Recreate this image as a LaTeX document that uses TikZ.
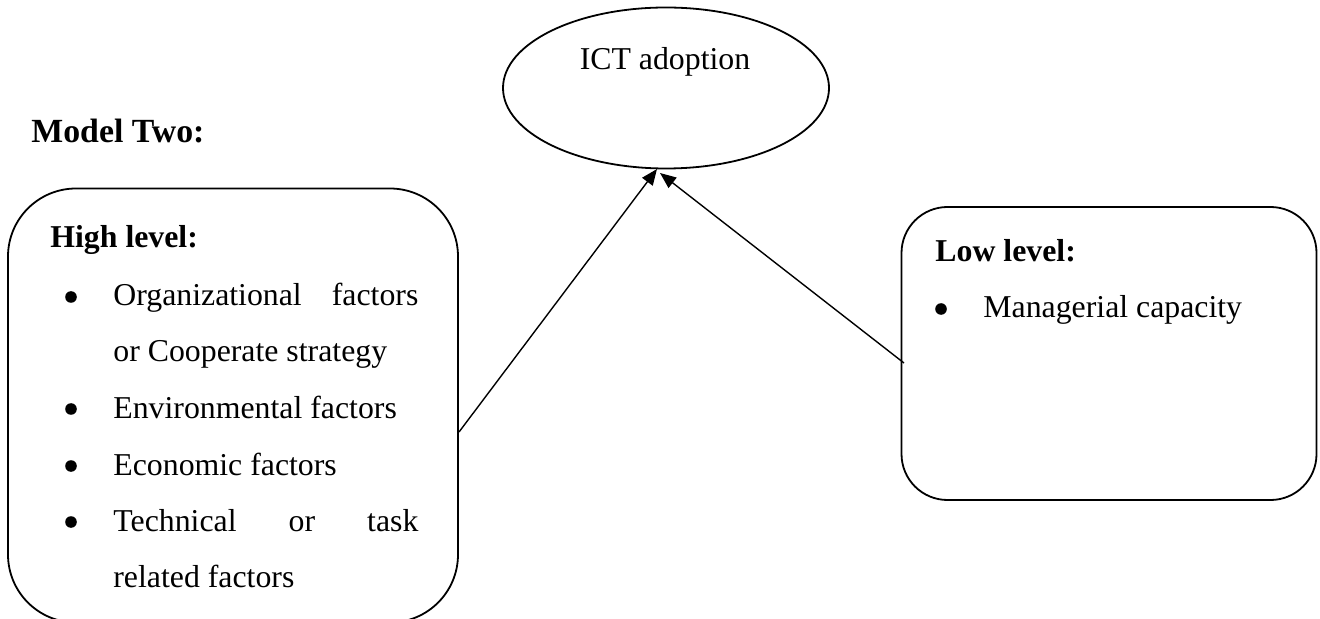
\documentclass[tikz,border=0pt]{standalone}
\usepackage{fontspec}
\setmainfont{Liberation Serif}
\usetikzlibrary{arrows.meta,shapes.geometric}
\begin{document}
\begin{tikzpicture}[x=0.5pt,y=-0.5pt,
  txt/.style={inner sep=0pt,anchor=base west,font=\fontsize{15.9}{19}\selectfont},
  btxt/.style={txt,font=\fontsize{15.9}{19}\selectfont\bfseries},
  bul/.style={circle,fill,inner sep=0pt,minimum size=5.8pt},
  boxA/.style={draw,line width=0.9pt,rounded corners=34pt,inner sep=0pt},
  conn/.style={line width=0.7pt,-{Triangle[length=8pt,width=6.5pt]}}]
\useasboundingbox (0,0) rectangle (1320,619);
% ellipse
\node[draw,ellipse,line width=0.9pt,inner sep=0pt,minimum width=163pt,minimum height=80.5pt] (ict) at (666,88) {};
\node[txt,anchor=base] (ictt) at (665,70) {ICT adoption};
% Model Two
\node[btxt,font=\fontsize{16.9}{20}\selectfont\bfseries] (mt) at (31,143) {Model Two:};
% left box
\node[boxA,minimum width=225pt,minimum height=217pt] (hl) at (233,405.5) {};
\node[btxt] (hlt) at (50,248) {High level:};
\node[bul] (b1) at (71,297) {};
\node[txt] (l1) at (113,306) {\makebox[152.5pt][s]{Organizational\hfill factors}};
\node[txt] (l1b) at (113,362) {or Cooperate strategy};
\node[bul] (b2) at (71,409) {};
\node[txt] (l2) at (113,418) {Environmental factors};
\node[bul] (b3) at (71,466) {};
\node[txt] (l3) at (113,475) {Economic factors};
\node[bul] (b4) at (71,522) {};
\node[txt] (l4) at (113,531) {\makebox[152.5pt][s]{Technical\hfill or\hfill task}};
\node[txt] (l4b) at (113,587) {related factors};
% right box
\node[boxA,rounded corners=23pt,minimum width=207.5pt,minimum height=146.5pt] (ll) at (1109,353.5) {};
\node[btxt] (llt) at (935,262) {Low level:};
\node[bul] (b5) at (941,309) {};
\node[txt] (l5) at (983,318) {Managerial capacity};
% connectors
\coordinate (s1) at (459,432);
\coordinate (t1) at (657,169);
\coordinate (s2) at (904,363);
\coordinate (t2) at (660,173);
\draw[conn] (s1) -- (t1);
\draw[conn] (s2) -- (t2);
\end{tikzpicture}
\end{document}
